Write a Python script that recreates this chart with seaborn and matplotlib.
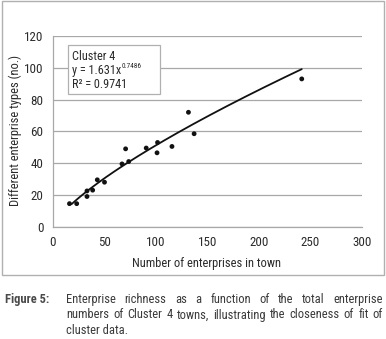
import matplotlib
matplotlib.use("Agg")
import matplotlib.pyplot as plt
import matplotlib.font_manager as fm
import seaborn as sns
import numpy as np
import pandas as pd
from matplotlib.patches import Rectangle

# ---- data ----
enterprises = [16, 23, 33, 33, 38.5, 43, 50, 67, 70.5, 73.5, 90.5, 101, 101.5, 115.5, 131.5, 137, 241.5]
types = [14.5, 14.5, 19, 22.5, 23, 29.5, 28, 39.5, 49, 41, 49.5, 46.5, 53, 50.5, 72, 58.5, 93]
fit_a = 1.631
fit_b = 0.7486
x_ticks = [0, 50, 100, 150, 200, 250, 300]
y_ticks = [0, 20, 40, 60, 80, 100, 120]
box_lines = ["Cluster 4", "y = 1.631x", "0.7486", "R\u00b2 = 0.9741"]
x_label = "Number of enterprises in town"
y_label = "Different enterprise types (no.)"
fig_label = "Figure 5:"
caption_lines = [
    "Enterprise richness as a function of the total enterprise",
    "numbers of Cluster 4 towns, illustrating the closeness of fit of",
    "cluster data.",
]

sns.set_style("white")

# pick a narrow sans font if one is installed
names = {f.name for f in fm.fontManager.ttflist}
cands = ["Liberation Sans Narrow", "Roboto Condensed", "Open Sans Condensed",
         "Arial Narrow", "Noto Sans Condensed", "DejaVu Sans Condensed",
         "Liberation Sans", "Roboto", "DejaVu Sans"]
main = next((c for c in cands if c in names), "DejaVu Sans")
FONT = [main, "DejaVu Sans"]
plt.rcParams["font.family"] = FONT
TXT = "#2b2b2b"
GRID = "#a8a8a8"

W, H = 386, 339
fig = plt.figure(figsize=(W / 100, H / 100), dpi=100)
fig.canvas.draw()
r = fig.canvas.get_renderer()


def width_of(s, size, weight="normal"):
    t = fig.text(0, 0, s, fontsize=size, fontweight=weight)
    w = t.get_window_extent(r).width
    t.remove()
    return w


def fx(px):
    return px / W


def fy(py):
    return 1 - py / H


tick_fs = 9.4
lab_fs = 9.0
box_fs = 8.8
cap_fs = 9.0
figlab_fs = 9.0

ax_l, ax_r, ax_t, ax_b = 53, 362, 36, 226.7
ax = fig.add_axes([fx(ax_l), fy(ax_b), (ax_r - ax_l) / W, (ax_b - ax_t) / H])

df = pd.DataFrame({"x": enterprises, "y": types})
sns.scatterplot(data=df, x="x", y="y", ax=ax, color="#111111", s=12, edgecolor="none", zorder=3)

xs = np.linspace(min(enterprises) + 2, max(enterprises), 200)
fit = pd.DataFrame({"x": xs, "y": fit_a * xs ** fit_b})
sns.lineplot(data=fit, x="x", y="y", ax=ax, color="#111111", lw=1.3, zorder=2)

ax.set_xlim(0, 300)
ax.set_ylim(0, 120)
ax.set_xticks(x_ticks)
ax.set_yticks(y_ticks)
ax.set_xticklabels([str(t) for t in x_ticks])
ax.set_yticklabels([str(t) for t in y_ticks])
ax.tick_params(axis="both", labelsize=tick_fs, labelcolor=TXT, color=GRID, length=4, width=0.8,
               direction="out", pad=3)
ax.grid(axis="y", color=GRID, lw=0.9)
ax.grid(axis="x", visible=False)
for s in ["top", "right"]:
    ax.spines[s].set_visible(False)
for s in ["left", "bottom"]:
    ax.spines[s].set_color(GRID)
    ax.spines[s].set_linewidth(0.9)
ax.set_xlabel("")
ax.set_ylabel("")

fig.text(fx(15), fy(131), y_label, rotation=90, ha="center", va="center", fontsize=lab_fs, color=TXT)
fig.text(fx(207), fy(264), x_label, ha="center", va="center", fontsize=lab_fs, color=TXT)

# trendline label box
fig.patches.append(Rectangle((fx(67.7), fy(94.3)), (160 - 67.7) / W, (94.3 - 45) / H,
                             transform=fig.transFigure, facecolor="white", edgecolor="#b0b0b0", lw=0.9, zorder=5))
fig.text(fx(72.5), fy(56.5), box_lines[0], ha="left", va="center", fontsize=box_fs, color=TXT, zorder=6)
t1 = fig.text(fx(72.5), fy(70.5), box_lines[1], ha="left", va="center", fontsize=box_fs, color=TXT, zorder=6)
bb = t1.get_window_extent(r)
fig.text((bb.x1 - 0.5) / W, fy(66), box_lines[2], ha="left", va="center", fontsize=box_fs * 0.6,
         color=TXT, zorder=6)
fig.text(fx(72.5), fy(85), box_lines[3], ha="left", va="center", fontsize=box_fs, color=TXT, zorder=6)

# outer border
fig.patches.append(Rectangle((fx(2), fy(275)), (383.5 - 2) / W, (275 - 1) / H,
                             transform=fig.transFigure, facecolor="none", edgecolor="#b0b0b0", lw=1.0))

# caption
fig.text(fx(5), fy(299.5), fig_label, ha="left", va="center", fontsize=figlab_fs, fontweight="bold",
         color="#4a4a4a")
cap_l, cap_r = 66, 383
line_y = [299.5, 315, 331]


def justify(line, y, full):
    if not full:
        fig.text(fx(cap_l), fy(y), line, ha="left", va="center", fontsize=cap_fs, color="#3a3a3a")
        return
    words = line.split(" ")
    widths = [width_of(w, cap_fs) for w in words]
    gap = ((cap_r - cap_l) - sum(widths)) / (len(words) - 1)
    x = cap_l
    for w, wd in zip(words, widths):
        fig.text(fx(x), fy(y), w, ha="left", va="center", fontsize=cap_fs, color="#3a3a3a")
        x += wd + gap


for i, (ln, y) in enumerate(zip(caption_lines, line_y)):
    justify(ln, y, i < len(caption_lines) - 1)

fig.savefig("out.png", dpi=100)
